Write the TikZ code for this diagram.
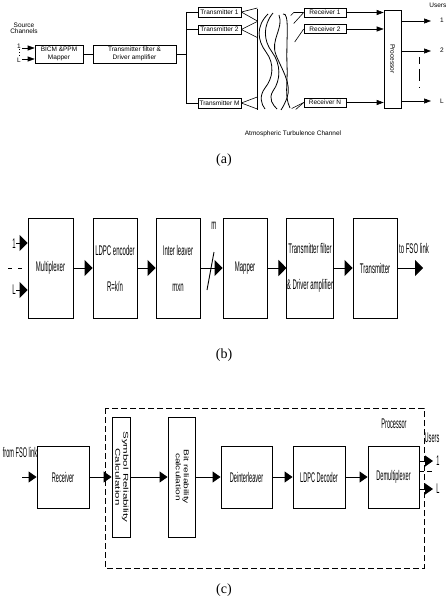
\documentclass[tikz,border=0pt]{standalone}
\usepackage{fontspec}
\setmainfont{Liberation Sans}
\newfontfamily\capfont{Liberation Serif}
\usetikzlibrary{arrows.meta}
\newcommand{\cnd}[1]{\scalebox{0.43}[1]{#1}}
\newcommand{\cnc}[1]{\scalebox{0.4}[1]{#1}}
\newcommand{\wid}[2]{\scalebox{#1}[1]{#2}}
\begin{document}
\begin{tikzpicture}[x=1pt,y=-1pt,
  abox/.style={draw,line width=0.6pt,inner sep=0pt,align=center,font=\fontsize{6.5}{8}\selectfont},
  atxt/.style={inner sep=0pt,align=center,font=\fontsize{6.5}{6.5}\selectfont},
  aarr/.style={-{Triangle[length=7pt,width=5pt]},line width=0.6pt},
  aline/.style={line width=0.6pt},
  wave/.style={line width=0.8pt},
  bbox/.style={draw,line width=0.9pt,inner sep=0pt,minimum width=44pt,minimum height=100pt,align=center,font=\fontsize{14}{36}\selectfont},
  btxt/.style={inner sep=0pt,font=\fontsize{14}{14}\selectfont},
  barr/.style={-{Triangle[length=8pt,width=16pt]},line width=0.9pt},
  cbox/.style={draw,line width=0.9pt,inner sep=0pt,minimum width=52pt,minimum height=62pt,align=center,font=\fontsize{14}{14}\selectfont},
  ctall/.style={draw,line width=0.9pt,inner sep=0pt,minimum height=120pt,font=\fontsize{7}{8}\selectfont},
  ctxt/.style={inner sep=0pt,font=\fontsize{14}{14}\selectfont},
  carr/.style={-{Triangle[length=8pt,width=11pt]},line width=0.9pt},
  captxt/.style={inner sep=0pt,font=\capfont\fontsize{14}{14}\selectfont}]
\useasboundingbox (0,0) rectangle (447,607);

% ---------------- (a) ----------------
\node[atxt] (src) at (24,28.5) {Source\\Channels};
\node[abox,minimum width=48pt,minimum height=18pt] (map) at (59,54) {BICM \&PPM\\Mapper};
\node[abox,minimum width=83pt,minimum height=18pt] (tf) at (134.5,54) {Transmitter filter \&\\Driver amplifier};
\node[abox,minimum width=43pt,minimum height=10pt] (tx1) at (219.5,12) {Transmitter 1};
\node[abox,minimum width=43pt,minimum height=9pt] (tx2) at (219.5,29.5) {Transmitter 2};
\node[abox,minimum width=43pt,minimum height=10pt] (txM) at (219.5,103) {Transmitter M};
\node[abox,minimum width=42pt,minimum height=9pt] (rx1) at (325,12.5) {Receiver 1};
\node[abox,minimum width=42pt,minimum height=9pt] (rx2) at (325,29) {Receiver 2};
\node[abox,minimum width=42pt,minimum height=9pt] (rxN) at (325,102.5) {Receiver N};
\node[abox,minimum width=17pt,minimum height=98pt] (proc) at (392.5,59) {\rotatebox{-90}{Processor}};

\node[atxt] (i1) at (19,46.5) {1};
\node[atxt] (iL) at (19,60) {L};
\draw[aline,dash pattern=on 1.5pt off 1.5pt] (i1.south) -- (iL.north);
\coordinate (a1) at (22,48);
\coordinate (aL) at (22,59);
\draw[aarr] (a1) -- (a1 -| map.west);
\draw[aarr] (aL) -- (aL -| map.west);
\draw[aline] (map.east) -- (tf.west);
\coordinate (sp) at (186,54);
\draw[aline] (tf.east) -- (sp);
\draw[aline] (sp |- tx1) -- (sp |- txM);
\draw[aline] (sp |- tx1) -- (tx1.west);
\draw[aline] (sp |- tx2) -- (tx2.west);
\draw[aline] (sp |- txM) -- (txM.west);

% transmit apertures
\coordinate (bt) at (257,9);
\coordinate (bb) at (257,110);
\draw[aline] (bt) -- (bb);
\draw[aline] (tx1.east) -- ++(16,-4) (tx1.east) -- ++(16,9);
\draw[aline] (tx2.east) -- ++(16,-8) (tx2.east) -- ++(16,8);
\draw[aline] (txM.east) -- ++(16,-6) (txM.east) -- ++(16,6);

% turbulence
\draw[wave] (268,14) .. controls (256,26) and (257,40) .. (266,52) .. controls (275,64) and (273,78) .. (265,88) .. controls (259,96) and (261,104) .. (265,109);
\draw[wave] (273,13) .. controls (263,25) and (263,40) .. (272,52) .. controls (281,64) and (281,80) .. (273,91) .. controls (268,99) and (273,105) .. (277,109);
\draw[wave] (279,15) .. controls (284,28) and (270,40) .. (276,55) .. controls (282,70) and (292,84) .. (287,98) .. controls (285,103) and (283,107) .. (281,110);
\draw[wave] (283,14) .. controls (290,12) and (286,40) .. (287,65) .. controls (288,85) and (284,95) .. (290,108);

% receive apertures
\draw[aline] (rx1.west) -- ++(-10,0) -- ++(-3,3);
\draw[aline] (rx1.west) -- ++(-10,11);
\draw[aline] (rx2.west) -- ++(-9,13);
\draw[aline] (rxN.west) -- ++(-8,7);
\draw[aline] (rxN.west) -- ++(-12,6);

\draw[aarr] (rx1.east) -- (rx1.east -| proc.west);
\draw[aarr] (rx2.east) -- (rx2.east -| proc.west);
\draw[aarr] (rxN.east) -- (rxN.east -| proc.west);

\coordinate (u1) at (431,21);
\coordinate (u2) at (431,51);
\coordinate (uL) at (431,101);
\draw[aarr] (u1 -| proc.east) -- (u1);
\draw[aarr] (u2 -| proc.east) -- (u2);
\draw[aarr] (uL -| proc.east) -- (uL);
\node[atxt] (l1) at (442,20) {1};
\node[atxt] (l2) at (442,50) {2};
\node[atxt] (lL) at (442,101) {L};
\node[atxt,anchor=east] (users) at (446.5,5) {Users};
\draw[aline,dash pattern=on 7pt off 5pt on 12pt off 6pt on 1pt off 20pt] (419,57) -- (419,91);

\node[atxt] (atc) at (293,134) {Atmospheric Turbulence Channel};
\node[captxt] (capa) at (224,160) {(a)};

% ---------------- (b) ----------------
\node[bbox,minimum width=45pt] (mux) at (50.5,268) {\cnd{Multiplexer}};
\node[bbox] (ldpc) at (115,268) {\cnd{LDPC encoder}\\\cnd{R=k/n}};
\node[bbox] (intl) at (178,268) {\cnd{Inter leaver}\\\cnd{mxn}};
\node[bbox] (mapr) at (245,268) {\cnd{Mapper}};
\node[bbox] (tfb) at (310,268) {\cnd{Transmitter filter}\\\cnd{\& Driver amplifier}};
\node[bbox] (txb) at (375,268) {\cnd{Transmitter}};

\draw[barr] (mux.east) -- (ldpc.west);
\draw[barr] (ldpc.east) -- (intl.west);
\draw[barr] (intl.east) -- (mapr.west);
\draw[line width=0.9pt] (207,290) -- (214,252);
\node[btxt] (m) at (214,226) {\cnd{m}};
\draw[barr] (mapr.east) -- (tfb.west);
\draw[barr] (tfb.east) -- (txb.west);
\coordinate (out) at (423,268);
\draw[barr] (txb.east) -- (out);
\node[btxt] (fso) at (414,248) {\cnd{to FSO link}};

\node[btxt] (b1) at (14,244) {\cnd{1}};
\node[btxt] (bL) at (14,290) {\cnd{L}};
\coordinate (bi1) at (16,243);
\coordinate (biL) at (16,290);
\draw[barr] (bi1) -- (bi1 -| mux.west);
\draw[barr] (biL) -- (biL -| mux.west);
\draw[line width=0.9pt,dash pattern=on 4pt off 6pt] (8,268) -- (22,268);

\node[captxt] (capb) at (224,355) {(b)};

% ---------------- (c) ----------------
\draw[line width=0.9pt,dash pattern=on 6pt off 3pt] (105,408) rectangle (424,568);
\node[cbox] (rcv) at (63,477) {\cnc{Receiver}};
\node[ctall,minimum width=18pt] (sym) at (121,477) {\rotatebox{-90}{\begin{tabular}{@{}c@{}}\wid{1.65}{Symbol Reliability}\\\wid{1.65}{Calculation}\end{tabular}}};
\node[ctall,minimum width=27pt] (bit) at (181.5,477) {\rotatebox{-90}{\begin{tabular}{@{}c@{}}\wid{1.45}{Bit reliability}\\\wid{1.45}{calculation}\end{tabular}}};
\node[cbox,minimum width=51pt] (deint) at (246.5,477) {\cnc{Deinterleaver}};
\node[cbox] (ldec) at (319,477) {\cnc{LDPC Decoder}};
\node[cbox,minimum width=51pt] (dmx) at (393.5,477) {\cnc{Demultiplexer}};

\coordinate (cin) at (22,477);
\draw[carr] (cin) -- (rcv.west);
\draw[carr] (rcv.east) -- (sym.west);
\draw[carr] (sym.east) -- (bit.west);
\draw[carr] (bit.east) -- (deint.west);
\draw[carr] (deint.east) -- (ldec.west);
\draw[carr] (ldec.east) -- (dmx.west);
\node[ctxt] (from) at (20,452) {\cnc{from FSO link}};

\coordinate (c1) at (433,461);
\coordinate (cL) at (433,489);
\coordinate (cd) at (433,471);
\draw[carr] (c1 -| dmx.east) -- (c1);
\draw[carr] (cL -| dmx.east) -- (cL);
\draw[line width=0.9pt,dash pattern=on 5pt off 3pt] (cd -| dmx.east) -- (cd);
\node[ctxt] (cl1) at (438,461) {\cnc{1}};
\node[ctxt] (clL) at (438,489) {\cnc{L}};
\node[ctxt] (cusers) at (432,438) {\cnc{Users}};
\node[ctxt] (cproc) at (394,424) {\cnc{Processor}};

\node[captxt] (capc) at (224,590) {(c)};
\end{tikzpicture}
\end{document}
